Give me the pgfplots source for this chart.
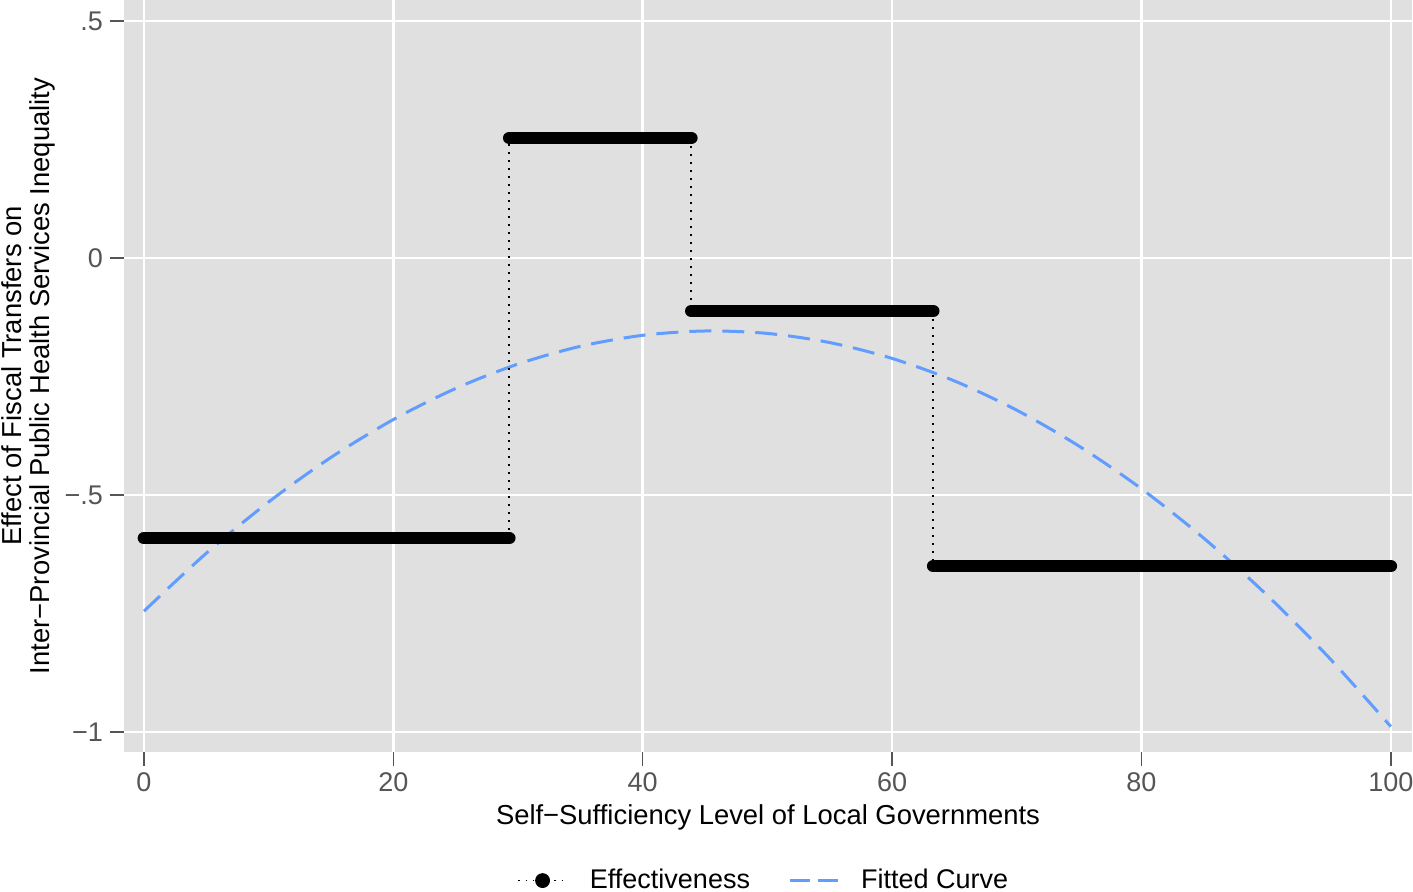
\documentclass[border=0pt]{standalone}
\usepackage{fontspec}
\setmainfont{Liberation Sans}
\usepackage{pgfplots}
\pgfplotsset{compat=1.18}
\definecolor{panelbg}{HTML}{E0E0E0}
\definecolor{fitblue}{HTML}{619CFF}
\definecolor{ticktext}{HTML}{555555}
\begin{document}
\begin{tikzpicture}
\begin{axis}[
  name=ax,
  scale only axis, width=644pt, height=376pt,
  xmin=-1.6, xmax=101.7, ymin=-1.042, ymax=0.544,
  axis background/.style={fill=panelbg},
  axis line style={draw=none},
  grid=major, grid style={white, line width=1.3pt},
  tick pos=left, tick align=outside, major tick length=7pt,
  tick style={ticktext, line width=0.8pt},
  xtick={0,20,40,60,80,100}, ytick={-1,-0.5,0,0.5},
  yticklabels={−1,−.5,0,.5},
  /pgf/number format/assume math mode=true,
  ticklabel style={font=\fontsize{13.5}{15}\selectfont, text=ticktext},
  xlabel={Self−Sufficiency Level of Local Governments},
  ylabel={Effect of Fiscal Transfers on\\Inter−Provincial Public Health Services Inequality},
  label style={font=\fontsize{13.7}{14}\selectfont},
  ylabel style={align=center, inner sep=0pt, at={(axis description cs:-0.0532,0.5)}, anchor=south},
  xlabel style={inner sep=0pt, at={(axis description cs:0.5,-0.0865)}, anchor=center},
  legend style={at={(0.496,-0.171)}, anchor=center, draw=none, fill=none, inner sep=0pt,
    legend columns=2, font=\fontsize{13.5}{15}\selectfont,
    /tikz/every even column/.append style={column sep=19pt},
    nodes={inner xsep=0pt, inner ysep=1pt}},
  legend cell align=left,
]
% legend entries
\addlegendimage{legend image code/.code={
  \draw[black, line width=0.8pt, dash pattern=on 0.8pt off 2.8pt] (0cm,0cm) -- (0.85cm,0cm);
  \fill[black] (0.425cm,0cm) circle (3.5pt);
  \path (1.25cm,0cm);}}
\addlegendentry{Effectiveness}
\addlegendimage{legend image code/.code={
  \draw[fitblue, line width=1.5pt, dash pattern=on 10pt off 4pt] (0cm,0cm) -- (0.85cm,0cm);
  \path (1.25cm,0cm);}}
\addlegendentry{Fitted Curve}
% fitted curve
\addplot[fitblue, line width=1.5pt, dash pattern=on 11pt off 5.5pt, smooth, forget plot] coordinates {
(0,-0.7450) (5,-0.6228) (10,-0.5147) (15,-0.4207) (20,-0.3409) (25,-0.2753)
(30,-0.2238) (35,-0.1864) (40,-0.1632) (45,-0.1541) (50,-0.1592) (55,-0.1785)
(60,-0.2119) (65,-0.2594) (70,-0.3211) (75,-0.3970) (80,-0.4869) (85,-0.5911)
(90,-0.7094) (95,-0.8418) (100,-0.9884)};
% dotted step connectors
\addplot[black, line width=0.9pt, dash pattern=on 0.9pt off 3.1pt, forget plot] coordinates {(29.3,-0.591) (29.3,0.253)};
\addplot[black, line width=0.9pt, dash pattern=on 0.9pt off 3.1pt, forget plot] coordinates {(43.9,0.253) (43.9,-0.112)};
\addplot[black, line width=0.9pt, dash pattern=on 0.9pt off 3.1pt, forget plot] coordinates {(63.3,-0.112) (63.3,-0.650)};
% thick step segments
\addplot[black, line width=6.3pt, line cap=round, forget plot] coordinates {(0,-0.591) (29.3,-0.591)};
\addplot[black, line width=6.3pt, line cap=round, forget plot] coordinates {(29.3,0.253) (43.9,0.253)};
\addplot[black, line width=6.3pt, line cap=round, forget plot] coordinates {(43.9,-0.112) (63.3,-0.112)};
\addplot[black, line width=6.3pt, line cap=round, forget plot] coordinates {(63.3,-0.650) (100,-0.650)};
\end{axis}
\pgfresetboundingbox
\useasboundingbox ([xshift=-62pt,yshift=-70pt]ax.south west) rectangle ([xshift=0.5pt]ax.north east);
\end{tikzpicture}
\end{document}
